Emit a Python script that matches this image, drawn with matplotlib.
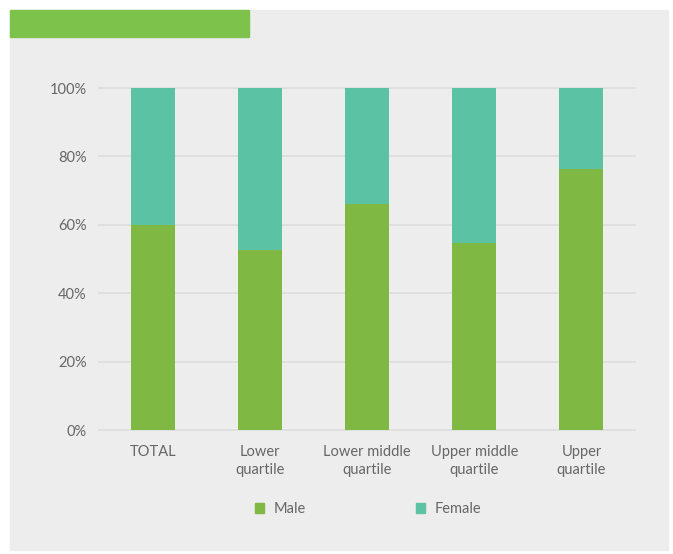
import matplotlib
matplotlib.use('Agg')
import matplotlib.pyplot as plt
from matplotlib.patches import Rectangle, Patch


CATEGORIES = ['TOTAL', 'Lower\nquartile', 'Lower middle\nquartile',
              'Upper middle\nquartile', 'Upper\nquartile']
MALE = [59.8, 52.6, 66.1, 54.6, 76.3]
FEMALE = [100 - m for m in MALE]
Y_TICKS = [0, 20, 40, 60, 80, 100]

MALE_COLOR = '#7FB843'
FEMALE_COLOR = '#5BC2A3'
TITLE_COLOR = '#7DC24B'
PANEL_COLOR = '#EDEDED'
TEXT_COLOR = '#666666'
W, H = 673, 554


def main():
    plt.rcParams['font.family'] = ['Lato', 'DejaVu Sans']
    fig = plt.figure(figsize=(W / 100, H / 100), dpi=100, facecolor='white')

    # grey panel and green header block, kept behind the axes
    fig.patches.append(Rectangle((10 / W, 4 / H), 658 / W, 540 / H,
                                 transform=fig.transFigure, color=PANEL_COLOR, zorder=-2))
    fig.patches.append(Rectangle((10 / W, (H - 37) / H), 239 / W, 27 / H,
                                 transform=fig.transFigure, color=TITLE_COLOR, zorder=-1))

    ax = fig.add_axes([99 / W, (H - 430) / H, 536 / W, 342 / H])
    ax.set_facecolor('none')

    x = range(len(CATEGORIES))
    ax.bar(x, MALE, width=0.41, color=MALE_COLOR, zorder=3, label='Male')
    ax.bar(x, FEMALE, width=0.41, bottom=MALE, color=FEMALE_COLOR, zorder=3, label='Female')

    ax.set_xlim(-0.5, len(CATEGORIES) - 0.5)
    ax.set_ylim(0, 100)
    ax.set_yticks(Y_TICKS)
    ax.set_yticklabels([f'{t}%' for t in Y_TICKS])
    ax.set_xticks(list(x))
    ax.set_xticklabels(CATEGORIES, linespacing=1.3)
    for t in Y_TICKS:
        ax.axhline(t, color='#DDDDDD', lw=1.2, zorder=1, clip_on=False)
    for s in ax.spines.values():
        s.set_visible(False)
    ax.tick_params(length=0, colors=TEXT_COLOR, labelsize=10.5)
    ax.tick_params(axis='x', pad=11)
    ax.tick_params(axis='y', pad=9)

    handles = [Patch(color=MALE_COLOR, label='Male'), Patch(color=FEMALE_COLOR, label='Female')]
    fig.legend(handles=handles, loc='center', bbox_to_anchor=(368 / W, 1 - 509 / H),
               ncol=2, frameon=False, handlelength=0.65, handleheight=0.65,
               handletextpad=0.65, columnspacing=7.5, fontsize=10.5, labelcolor=TEXT_COLOR)

    fig.savefig('out.png', dpi=100, facecolor='white')


if __name__ == '__main__':
    main()
